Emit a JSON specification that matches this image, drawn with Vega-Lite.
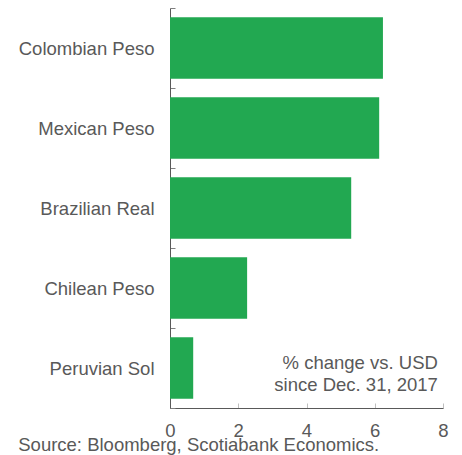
{
  "$schema": "https://vega.github.io/schema/vega-lite/v6.json",
  "width": 273,
  "height": 400,
  "autosize": "none",
  "padding": {"left": 170, "top": 8, "right": 19, "bottom": 47},
  "background": "white",
  "config": {
    "view": {"stroke": null},
    "font": "Liberation Sans",
    "axis": {"labelFont": "Liberation Sans", "labelColor": "#595959", "labelFontSize": 18.5, "domainColor": "#595959", "grid": false, "title": null}
  },
  "title": {
    "text": "Source: Bloomberg, Scotiabank Economics.",
    "orient": "bottom",
    "anchor": "start",
    "frame": "bounds",
    "font": "Liberation Sans",
    "fontSize": 18.5,
    "fontWeight": "normal",
    "color": "#595959",
    "offset": -3.5
  },
  "layer": [
    {
      "data": {
        "values": [
          {"currency": "Colombian Peso", "change": 6.24},
          {"currency": "Mexican Peso", "change": 6.13},
          {"currency": "Brazilian Real", "change": 5.31},
          {"currency": "Chilean Peso", "change": 2.26},
          {"currency": "Peruvian Sol", "change": 0.68}
        ]
      },
      "mark": {"type": "bar", "color": "#22a851", "height": {"band": 0.77}},
      "encoding": {
        "y": {
          "field": "currency",
          "type": "nominal",
          "sort": null,
          "scale": {"paddingInner": 0, "paddingOuter": 0},
          "axis": {"tickBand": "extent", "tickSize": -5, "tickColor": "#7f7f7f", "labelPadding": 21}
        },
        "x": {
          "field": "change",
          "type": "quantitative",
          "scale": {"domain": [0, 8]},
          "axis": {"values": [0, 2, 4, 6, 8], "tickSize": -5, "tickColor": "#bfbfbf", "labelPadding": 18, "labelFlush": false}
        }
      }
    },
    {
      "data": {"values": [{"currency": "Peruvian Sol", "pos": 7.85, "note": ["% change vs. USD", "since Dec. 31, 2017"]}]},
      "mark": {"type": "text", "align": "right", "baseline": "middle", "fontSize": 18.5, "fontWeight": "normal", "font": "Liberation Sans", "color": "#595959", "lineHeight": 22, "dy": -5},
      "encoding": {
        "x": {"field": "pos", "type": "quantitative"},
        "y": {"field": "currency", "type": "nominal", "sort": null},
        "text": {"field": "note"}
      }
    }
  ]
}
